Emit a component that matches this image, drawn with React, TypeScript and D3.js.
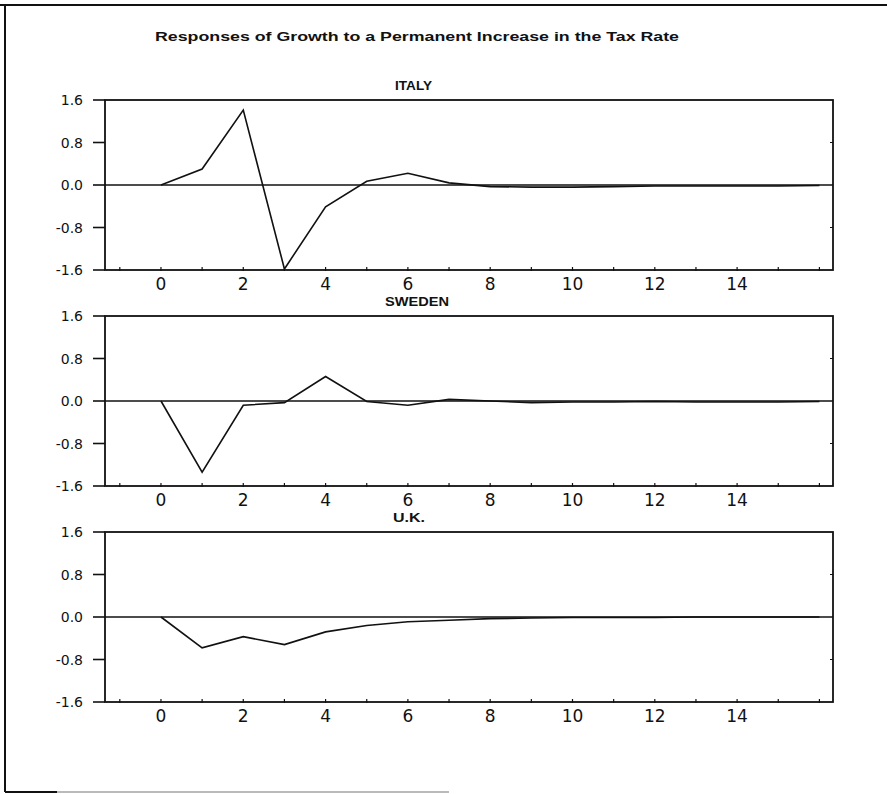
import React from "react";
import * as d3 from "d3";

// chart values
const title = "Responses of Growth to a Permanent Increase in the Tax Rate";
const horizons = d3.range(0, 17);
const yTicks = [1.6, 0.8, 0.0, -0.8, -1.6];
const xLabelTicks = [0, 2, 4, 6, 8, 10, 12, 14];
const xMinorTicks = d3.range(-1, 17);

const italy = [0, 0.3, 1.41, -1.58, -0.41, 0.07, 0.22, 0.04, -0.03, -0.04, -0.04, -0.03, -0.02, -0.02, -0.02, -0.02, -0.01];
const sweden = [0, -1.34, -0.08, -0.03, 0.46, -0.01, -0.08, 0.03, 0.0, -0.03, -0.02, -0.02, -0.01, -0.02, -0.02, -0.02, -0.01];
const uk = [0, -0.58, -0.37, -0.52, -0.28, -0.16, -0.09, -0.06, -0.03, -0.02, -0.01, -0.01, -0.01, 0, 0, 0, 0];

interface Panel {
  name: string;
  values: number[];
  top: number;
  labelX: number;
  labelW: number;
}

const panels: Panel[] = [
  { name: "ITALY", values: italy, top: 100, labelX: 395, labelW: 37 },
  { name: "SWEDEN", values: sweden, top: 316, labelX: 385, labelW: 64 },
  { name: "U.K.", values: uk, top: 532, labelX: 393, labelW: 32 },
];

const W = 887;
const H = 794;
const plotLeft = 105;
const plotRight = 833;
const plotH = 170;
const ink = "#111";

const x = d3.scaleLinear().domain([-1.36, 16.33]).range([plotLeft, plotRight]);

const PanelChart: React.FC<{ p: Panel }> = ({ p }) => {
  const bottom = p.top + plotH;
  const y = d3.scaleLinear().domain([-1.6, 1.6]).range([bottom, p.top]);
  const line = d3
    .line<number>()
    .x((_, i) => x(horizons[i]))
    .y(d => y(d));

  return (
    <g>
      <text
        x={p.labelX}
        y={p.top - 10}
        fontFamily="'Liberation Sans', sans-serif"
        fontWeight="bold"
        fontSize={12}
        textLength={p.labelW}
        lengthAdjust="spacingAndGlyphs"
        fill={ink}
      >
        {p.name}
      </text>

      {/* zero line */}
      <line x1={plotLeft} x2={plotRight} y1={y(0)} y2={y(0)} stroke={ink} strokeWidth={1.4} />

      {/* response path */}
      <path d={line(p.values) || ""} fill="none" stroke={ink} strokeWidth={1.6} />

      {/* frame */}
      <rect x={plotLeft} y={p.top} width={plotRight - plotLeft} height={plotH} fill="none" stroke={ink} strokeWidth={1.8} />

      {/* y axis ticks and labels */}
      {yTicks.map(t => (
        <g key={t}>
          <line x1={plotLeft - 12} x2={plotLeft} y1={y(t)} y2={y(t)} stroke={ink} strokeWidth={1.6} />
          {Math.abs(t) === 0.8 && (
            <line x1={plotRight - 3} x2={plotRight} y1={y(t)} y2={y(t)} stroke={ink} strokeWidth={1} />
          )}
          <text
            x={83}
            y={y(t) + 5}
            textAnchor="end"
            fontFamily="'DejaVu Sans', sans-serif"
            fontSize={14}
            fill={ink}
          >
            {t.toFixed(1)}
          </text>
        </g>
      ))}

      {/* x axis ticks and labels */}
      {xMinorTicks.map(t => (
        <line key={t} x1={x(t)} x2={x(t)} y1={bottom - 3} y2={bottom + 1} stroke={ink} strokeWidth={1.2} />
      ))}
      {xLabelTicks.map(t => (
        <text
          key={t}
          x={x(t)}
          y={bottom + 20}
          textAnchor="middle"
          fontFamily="'DejaVu Sans', sans-serif"
          fontSize={17}
          fill={ink}
        >
          {t}
        </text>
      ))}
    </g>
  );
};

export default function App() {
  return (
    <svg
      width={W}
      height={H}
      style={{ position: "absolute", left: 0, top: 0, background: "#fff" }}
    >
      {/* scanned page border */}
      <line x1={0} x2={W} y1={5} y2={5} stroke={ink} strokeWidth={2} />
      <line x1={5} x2={5} y1={5} y2={792} stroke={ink} strokeWidth={2} />
      <line x1={5} x2={57} y1={792} y2={792} stroke={ink} strokeWidth={2} />
      <line x1={57} x2={449} y1={792} y2={792} stroke="#777" strokeWidth={1.2} />

      <text
        x={155}
        y={41}
        fontFamily="'Liberation Sans', sans-serif"
        fontWeight="bold"
        fontSize={13}
        textLength={524}
        lengthAdjust="spacingAndGlyphs"
        fill={ink}
      >
        {title}
      </text>

      {panels.map(p => (
        <PanelChart key={p.name} p={p} />
      ))}
    </svg>
  );
}
